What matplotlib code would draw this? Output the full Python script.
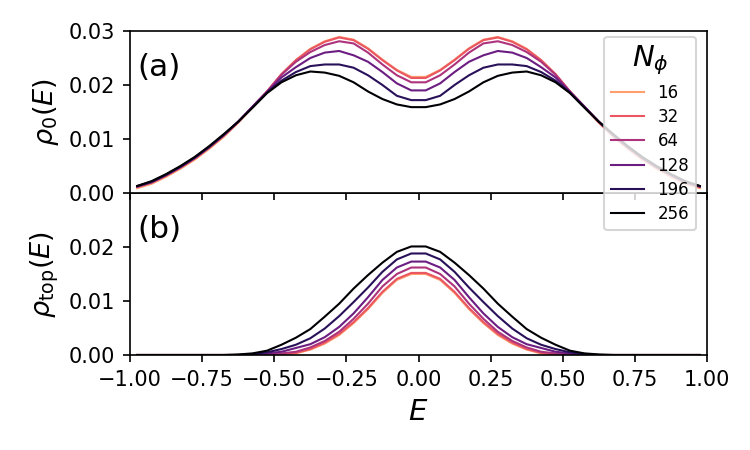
import numpy as np
import matplotlib
matplotlib.use("Agg")
import matplotlib.pyplot as plt

E = [-0.975, -0.925, -0.875, -0.825, -0.775, -0.725, -0.675, -0.625, -0.575, -0.525,
     -0.475, -0.425, -0.375, -0.325, -0.275, -0.225, -0.175, -0.125, -0.075, -0.025,
     0.025, 0.075, 0.125, 0.175, 0.225, 0.275, 0.325, 0.375, 0.425, 0.475,
     0.525, 0.575, 0.625, 0.675, 0.725, 0.775, 0.825, 0.875, 0.925, 0.975]

N_phi = [16, 32, 64, 128, 196, 256]

rho0_16 = [0.0009, 0.0017, 0.0030, 0.0045, 0.0062, 0.0082, 0.0104, 0.0130, 0.0159, 0.0188,
           0.0220, 0.0246, 0.0267, 0.0281, 0.0289, 0.0284, 0.0268, 0.0247, 0.0228, 0.0215,
           0.0215, 0.0228, 0.0247, 0.0268, 0.0284, 0.0289, 0.0281, 0.0267, 0.0246, 0.0220,
           0.0188, 0.0159, 0.0130, 0.0104, 0.0082, 0.0062, 0.0045, 0.0030, 0.0017, 0.0009]
rho0_32 = [0.0011, 0.0019, 0.0032, 0.0047, 0.0064, 0.0084, 0.0106, 0.0131, 0.0160, 0.0188,
           0.0220, 0.0246, 0.0266, 0.0280, 0.0288, 0.0283, 0.0267, 0.0246, 0.0227, 0.0213,
           0.0213, 0.0227, 0.0246, 0.0267, 0.0283, 0.0288, 0.0280, 0.0266, 0.0246, 0.0220,
           0.0188, 0.0160, 0.0131, 0.0106, 0.0084, 0.0064, 0.0047, 0.0032, 0.0019, 0.0011]
rho0_64 = [0.0012, 0.0020, 0.0033, 0.0048, 0.0065, 0.0085, 0.0107, 0.0132, 0.0160, 0.0188,
           0.0219, 0.0243, 0.0261, 0.0274, 0.0281, 0.0277, 0.0260, 0.0238, 0.0218, 0.0205,
           0.0205, 0.0218, 0.0238, 0.0260, 0.0277, 0.0281, 0.0274, 0.0261, 0.0243, 0.0219,
           0.0188, 0.0160, 0.0132, 0.0107, 0.0085, 0.0065, 0.0048, 0.0033, 0.0020, 0.0012]
rho0_128 = [0.0012, 0.0020, 0.0033, 0.0048, 0.0065, 0.0085, 0.0107, 0.0132, 0.0160, 0.0187,
            0.0214, 0.0233, 0.0250, 0.0260, 0.0263, 0.0255, 0.0243, 0.0224, 0.0203, 0.0190,
            0.0190, 0.0203, 0.0224, 0.0243, 0.0255, 0.0263, 0.0260, 0.0250, 0.0233, 0.0214,
            0.0187, 0.0160, 0.0132, 0.0107, 0.0085, 0.0065, 0.0048, 0.0033, 0.0020, 0.0012]
rho0_196 = [0.0013, 0.0021, 0.0034, 0.0049, 0.0066, 0.0086, 0.0108, 0.0132, 0.0159, 0.0186,
            0.0208, 0.0224, 0.0235, 0.0238, 0.0238, 0.0232, 0.0218, 0.0200, 0.0180, 0.0172,
            0.0172, 0.0180, 0.0200, 0.0218, 0.0232, 0.0238, 0.0238, 0.0235, 0.0224, 0.0208,
            0.0186, 0.0159, 0.0132, 0.0108, 0.0086, 0.0066, 0.0049, 0.0034, 0.0021, 0.0013]
rho0_256 = [0.0013, 0.0022, 0.0035, 0.0050, 0.0067, 0.0087, 0.0109, 0.0132, 0.0158, 0.0185,
            0.0205, 0.0218, 0.0225, 0.0223, 0.0217, 0.0205, 0.0188, 0.0174, 0.0164, 0.0159,
            0.0159, 0.0164, 0.0174, 0.0188, 0.0205, 0.0217, 0.0223, 0.0225, 0.0218, 0.0205,
            0.0185, 0.0158, 0.0132, 0.0109, 0.0087, 0.0067, 0.0050, 0.0035, 0.0022, 0.0013]

rhotop_16 = [0, 0, 0, 0, 0, 0, 0, 0, 0, 0,
             0.0001, 0.0003, 0.0010, 0.0021, 0.0037, 0.0059, 0.0085, 0.0115, 0.0139, 0.0150,
             0.0150, 0.0139, 0.0115, 0.0085, 0.0059, 0.0037, 0.0021, 0.0010, 0.0003, 0.0001,
             0, 0, 0, 0, 0, 0, 0, 0, 0, 0]
rhotop_32 = [0, 0, 0, 0, 0, 0, 0, 0, 0, 0,
             0.0001, 0.0004, 0.0011, 0.0023, 0.0039, 0.0061, 0.0087, 0.0117, 0.0141, 0.0152,
             0.0152, 0.0141, 0.0117, 0.0087, 0.0061, 0.0039, 0.0023, 0.0011, 0.0004, 0.0001,
             0, 0, 0, 0, 0, 0, 0, 0, 0, 0]
rhotop_64 = [0, 0, 0, 0, 0, 0, 0, 0, 0, 0.0001,
             0.0003, 0.0006, 0.0014, 0.0026, 0.0043, 0.0067, 0.0095, 0.0127, 0.0150, 0.0162,
             0.0162, 0.0150, 0.0127, 0.0095, 0.0067, 0.0043, 0.0026, 0.0014, 0.0006, 0.0003,
             0.0001, 0, 0, 0, 0, 0, 0, 0, 0, 0]
rhotop_128 = [0, 0, 0, 0, 0, 0, 0, 0, 0.0001, 0.0003,
              0.0006, 0.0013, 0.0020, 0.0033, 0.0052, 0.0077, 0.0107, 0.0139, 0.0162, 0.0173,
              0.0173, 0.0162, 0.0139, 0.0107, 0.0077, 0.0052, 0.0033, 0.0020, 0.0013, 0.0006,
              0.0003, 0.0001, 0, 0, 0, 0, 0, 0, 0, 0]
rhotop_196 = [0, 0, 0, 0, 0, 0, 0, 0, 0.0002, 0.0005,
              0.0011, 0.0019, 0.0031, 0.0049, 0.0072, 0.0098, 0.0125, 0.0154, 0.0177, 0.0188,
              0.0188, 0.0177, 0.0154, 0.0125, 0.0098, 0.0072, 0.0049, 0.0031, 0.0019, 0.0011,
              0.0005, 0.0002, 0, 0, 0, 0, 0, 0, 0, 0]
rhotop_256 = [0, 0, 0, 0, 0, 0, 0, 0.0001, 0.0003, 0.0008,
              0.0019, 0.0032, 0.0048, 0.0071, 0.0095, 0.0123, 0.0148, 0.0171, 0.0191, 0.0201,
              0.0201, 0.0191, 0.0171, 0.0148, 0.0123, 0.0095, 0.0071, 0.0048, 0.0032, 0.0019,
              0.0008, 0.0003, 0.0001, 0, 0, 0, 0, 0, 0, 0]

rho0 = [rho0_16, rho0_32, rho0_64, rho0_128, rho0_196, rho0_256]
rhotop = [rhotop_16, rhotop_32, rhotop_64, rhotop_128, rhotop_196, rhotop_256]

colors = plt.cm.magma(np.linspace(0.8, 0.0, len(N_phi)))

fig = plt.figure(figsize=(5, 3), dpi=150)
axa = fig.add_axes([130/750, 1-193/450, (707-130)/750, (193-31)/450])
axb = fig.add_axes([130/750, 1-355/450, (707-130)/750, (355-193)/450], sharex=axa)

for n, ya, yb, c in zip(N_phi, rho0, rhotop, colors):
    axa.plot(E, ya, color=c, lw=1.0, label=str(n))
    axb.plot(E, yb, color=c, lw=1.0)

for ax in (axa, axb):
    ax.set_xlim(-1, 1)
    ax.set_ylim(0, 0.03)
axa.set_yticks([0.0, 0.01, 0.02, 0.03])
axb.set_yticks([0.0, 0.01, 0.02])
axa.set_xticks([-1.0, -0.75, -0.5, -0.25, 0.0, 0.25, 0.5, 0.75, 1.0])
axa.tick_params(labelbottom=False)

axa.set_ylabel(r'$\rho_0(E)$', fontsize=13)
axb.set_ylabel(r'$\rho_{\rm top}(E)$', fontsize=13)
axb.set_xlabel(r'$E$', fontsize=14)
fig.align_ylabels([axa, axb])

axa.text(0.012, 0.72, '(a)', transform=axa.transAxes, fontsize=15)
axb.text(0.012, 0.72, '(b)', transform=axb.transAxes, fontsize=15)

axa.set_zorder(3)
leg = axa.legend(title=r'$N_\phi$', fontsize=8, title_fontsize=14, labelspacing=0.38,
                 loc='upper right', bbox_to_anchor=(696/750, 1-37/450),
                 bbox_transform=fig.transFigure, borderaxespad=0)

fig.savefig('out.png', dpi=150)
